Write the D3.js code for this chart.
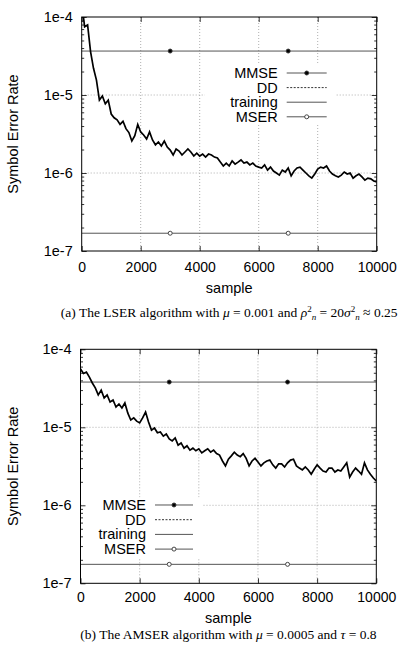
<!DOCTYPE html>
<html>
<head>
<meta charset="utf-8">
<script src="https://cdn.jsdelivr.net/npm/d3@7"></script>
<style>
body { margin: 0; background: #fff; }
svg { display: block; }
text { font-family: "Liberation Sans", Arial, sans-serif; fill: #000; }
text.caption { font-family: "Liberation Serif", "Times New Roman", serif; }
</style>
</head>
<body>
<svg id="drawing_region"></svg>
<script>
// sample grid (every 100 samples)
const samples = d3.range(0, 10001, 100);

// (a) LSER curve, symbol error rate read at each sample
const lserSER = [
  1.5e-4, 7.5e-5, 7.9e-5, 3.6e-5, 2.2e-5, 1.55e-5, 8.6e-6, 9.7e-6, 7.7e-6, 8.6e-6,
  5.7e-6, 5.1e-6, 4.8e-6, 4.2e-6, 4.6e-6, 3.7e-6, 3.3e-6, 2.57e-6, 3.0e-6, 4.2e-6,
  3.36e-6, 3.07e-6, 2.73e-6, 3.36e-6, 2.65e-6, 2.3e-6, 2.5e-6, 2.22e-6, 2.57e-6, 2.15e-6,
  1.97e-6, 1.70e-6, 2.03e-6, 1.91e-6, 1.70e-6, 1.86e-6, 2.03e-6, 1.86e-6, 1.65e-6, 1.80e-6,
  1.65e-6, 1.75e-6, 1.60e-6, 1.75e-6, 1.70e-6, 1.60e-6, 1.56e-6, 1.38e-6, 1.23e-6, 1.34e-6,
  1.23e-6, 1.43e-6, 1.30e-6, 1.38e-6, 1.47e-6, 1.34e-6, 1.38e-6, 1.27e-6, 1.34e-6, 1.23e-6,
  1.19e-6, 1.16e-6, 1.27e-6, 1.09e-6, 1.19e-6, 1.06e-6, 1.0e-6, 9.4e-7, 1.09e-6, 1.03e-6,
  1.16e-6, 9.2e-7, 1.06e-6, 1.16e-6, 1.19e-6, 1.09e-6, 1.0e-6, 9.2e-7, 8.6e-7, 9.7e-7,
  1.12e-6, 1.19e-6, 1.16e-6, 1.23e-6, 1.06e-6, 9.7e-7, 9.2e-7, 8.9e-7, 9.4e-7, 1.03e-6,
  9.7e-7, 1.0e-6, 8.6e-7, 9.2e-7, 9.7e-7, 8.9e-7, 8.1e-7, 8.6e-7, 8.4e-7, 7.9e-7,
  7.7e-7
];

// (b) AMSER curve
const amserSER = [
  5.6e-5, 4.9e-5, 5.1e-5, 4.4e-5, 3.7e-5, 3.2e-5, 2.6e-5, 3.0e-5, 2.38e-5, 2.6e-5,
  2.11e-5, 2.24e-5, 1.82e-5, 1.99e-5, 1.77e-5, 2.05e-5, 1.52e-5, 1.24e-5, 1.32e-5, 1.2e-5,
  1.14e-5, 1.32e-5, 1.57e-5, 1.17e-5, 9.2e-6, 9.8e-6, 8.5e-6, 8.7e-6, 7.7e-6, 8.2e-6,
  7.1e-6, 6.7e-6, 7.3e-6, 5.9e-6, 6.3e-6, 5.4e-6, 5.8e-6, 5.1e-6, 5.4e-6, 5.0e-6,
  5.3e-6, 4.7e-6, 5.0e-6, 5.3e-6, 4.8e-6, 5.1e-6, 4.6e-6, 4.4e-6, 3.7e-6, 3.2e-6,
  3.9e-6, 4.3e-6, 4.8e-6, 4.4e-6, 4.2e-6, 4.6e-6, 4.0e-6, 3.2e-6, 3.7e-6, 4.0e-6,
  3.6e-6, 3.2e-6, 3.5e-6, 3.7e-6, 3.8e-6, 3.3e-6, 3.0e-6, 3.4e-6, 3.4e-6, 3.1e-6,
  3.5e-6, 3.8e-6, 3.9e-6, 3.2e-6, 3.0e-6, 2.84e-6, 3.1e-6, 2.84e-6, 2.5e-6, 2.9e-6,
  3.3e-6, 3.0e-6, 2.75e-6, 2.67e-6, 3.0e-6, 3.0e-6, 2.67e-6, 2.84e-6, 2.75e-6, 3.1e-6,
  3.5e-6, 2.3e-6, 2.67e-6, 3.0e-6, 2.75e-6, 2.5e-6, 3.5e-6, 2.84e-6, 2.5e-6, 2.24e-6,
  2.05e-6
];

// reference levels
const mmseLevelA = 3.66e-5;
const mserLevelA = 1.69e-7;
const mmseLevelB = 3.8e-5;
const mserLevelB = 1.75e-7;
const markerSamples = [3000, 7000];

const xTicks = [0, 2000, 4000, 6000, 8000, 10000];
const yTicks = [1e-4, 1e-5, 1e-6, 1e-7];
const legendLabels = ['MMSE', 'DD', 'training', 'MSER'];

class LogPanel {

    constructor( config, data ) {
        this.config = config;
        this.data = data;
        this.init();
    }

    init() {
        let self = this;
        const c = self.config;

        self.chart = d3.select( c.parent ).append('g')
            .attr('transform', `translate(${c.left}, ${c.top})`);

        self.xscale = d3.scaleLinear()
            .domain( [0, 10000] )
            .range( [0, c.width] );

        self.yscale = d3.scaleLog()
            .domain( [1e-7, 1e-4] )
            .range( [c.height, 0] );

        self.clipId = 'clip-' + c.name;
        self.chart.append('clipPath').attr('id', self.clipId)
            .append('rect')
            .attr('width', c.width)
            .attr('height', c.height);
    }

    render() {
        let self = this;
        const c = self.config;
        const ch = self.chart;

        // grid
        ch.append('g').selectAll('line')
            .data( xTicks.slice(1, -1) )
            .join('line')
            .attr('x1', d => self.xscale(d)).attr('x2', d => self.xscale(d))
            .attr('y1', 0).attr('y2', c.height)
            .attr('stroke', '#9a9a9a').attr('stroke-width', 0.8)
            .attr('stroke-dasharray', '1,2');
        ch.append('g').selectAll('line')
            .data( yTicks.slice(1, -1) )
            .join('line')
            .attr('x1', 0).attr('x2', c.width)
            .attr('y1', d => self.yscale(d)).attr('y2', d => self.yscale(d))
            .attr('stroke', '#9a9a9a').attr('stroke-width', 0.8)
            .attr('stroke-dasharray', '1,2');

        const plot = ch.append('g').attr('clip-path', `url(#${self.clipId})`);

        // level lines
        const levels = [
            { v: c.mmse, fill: '#000' },
            { v: c.mser, fill: '#fff' }
        ];
        levels.forEach( lv => {
            plot.append('line')
                .attr('x1', 0).attr('x2', c.width)
                .attr('y1', self.yscale(lv.v)).attr('y2', self.yscale(lv.v))
                .attr('stroke', '#555').attr('stroke-width', 1);
            plot.selectAll(null)
                .data( markerSamples )
                .join('circle')
                .attr('cx', d => self.xscale(d))
                .attr('cy', self.yscale(lv.v))
                .attr('r', 2)
                .attr('fill', lv.fill)
                .attr('stroke', '#333').attr('stroke-width', 0.9);
        });

        // adaptive curve
        const line = d3.line()
            .x( (d, i) => self.xscale(samples[i]) )
            .y( d => self.yscale(d) );
        plot.append('path')
            .attr('d', line(self.data))
            .attr('fill', 'none')
            .attr('stroke', '#000')
            .attr('stroke-width', 1.7)
            .attr('stroke-linejoin', 'miter');

        // legend (opaque key)
        const lg = c.legend;
        const key = ch.append('g');
        key.append('rect')
            .attr('x', lg.box[0]).attr('y', lg.box[1])
            .attr('width', lg.box[2]).attr('height', lg.box[3])
            .attr('fill', '#fff');
        legendLabels.forEach( (lab, i) => {
            const y = lg.y0 + i * lg.dy;
            key.append('text')
                .attr('x', lg.textX).attr('y', y + 5)
                .attr('text-anchor', 'end')
                .attr('font-size', 14.5)
                .text(lab);
            key.append('line')
                .attr('x1', lg.x1).attr('x2', lg.x2)
                .attr('y1', y).attr('y2', y)
                .attr('stroke', i === 1 ? '#333' : '#555')
                .attr('stroke-width', 1)
                .attr('stroke-dasharray', i === 1 ? '2,1.5' : null);
            if (i === 0 || i === 3) {
                key.append('circle')
                    .attr('cx', (lg.x1 + lg.x2) / 2).attr('cy', y)
                    .attr('r', 2)
                    .attr('fill', i === 0 ? '#000' : '#fff')
                    .attr('stroke', '#333').attr('stroke-width', 0.9);
            }
        });

        // axes (ticks inward, mirrored)
        const minor = self.yscale.ticks().filter( d => !yTicks.some(t => Math.abs(t - d) / t < 1e-6) );
        const fmt = d => '1e' + Math.round(Math.log10(d));

        const yl = ch.append('g')
            .call( d3.axisLeft(self.yscale).tickValues(yTicks).tickFormat(fmt)
                .tickSizeInner(-5).tickSizeOuter(0).tickPadding(9) );
        ch.append('g')
            .call( d3.axisLeft(self.yscale).tickValues(minor).tickFormat('')
                .tickSizeInner(-2.5).tickSizeOuter(0) );
        ch.append('g').attr('transform', `translate(${c.width}, 0)`)
            .call( d3.axisRight(self.yscale).tickValues(yTicks).tickFormat('')
                .tickSizeInner(-5).tickSizeOuter(0) );
        ch.append('g').attr('transform', `translate(${c.width}, 0)`)
            .call( d3.axisRight(self.yscale).tickValues(minor).tickFormat('')
                .tickSizeInner(-2.5).tickSizeOuter(0) );
        const xl = ch.append('g').attr('transform', `translate(0, ${c.height})`)
            .call( d3.axisBottom(self.xscale).tickValues(xTicks).tickFormat(d3.format('d'))
                .tickSizeInner(-5).tickSizeOuter(0).tickPadding(c.xPad) );
        ch.append('g')
            .call( d3.axisTop(self.xscale).tickValues(xTicks).tickFormat('')
                .tickSizeInner(-5).tickSizeOuter(0) );

        ch.selectAll('.domain').remove();
        ch.selectAll('.tick line').attr('stroke', '#000').attr('stroke-width', 0.8);
        yl.selectAll('text').attr('font-size', 14.5).attr('font-family', null).attr('fill', '#000');
        xl.selectAll('text').attr('font-size', 14).attr('font-family', null).attr('fill', '#000');

        // border
        ch.append('rect')
            .attr('width', c.width).attr('height', c.height)
            .attr('fill', 'none')
            .attr('stroke', '#000').attr('stroke-width', 1);

        // axis titles
        ch.append('text')
            .attr('transform', `translate(${18 - c.left}, ${c.height / 2}) rotate(-90)`)
            .attr('text-anchor', 'middle')
            .attr('font-size', 14.5)
            .text('Symbol Error Rate');
        ch.append('text')
            .attr('x', c.width / 2).attr('y', c.height + c.xTitleY)
            .attr('text-anchor', 'middle')
            .attr('font-size', 14.5)
            .text('sample');

        // caption
        const cap = ch.append('text')
            .attr('class', 'caption')
            .attr('x', c.width / 2).attr('y', c.height + c.captionY)
            .attr('text-anchor', 'middle')
            .attr('font-size', 13.5);
        c.caption.forEach( p => {
            const ts = cap.append('tspan').text(p.t);
            if (p.it) ts.attr('font-style', 'italic');
            if (p.fs) ts.attr('font-size', p.fs);
            if (p.dx) ts.attr('dx', p.dx);
            if (p.dy) ts.attr('dy', p.dy);
        });
    }
}

const svg = d3.select('#drawing_region')
    .attr('width', 402)
    .attr('height', 648);
svg.append('rect').attr('width', 402).attr('height', 648).attr('fill', '#fff');

const panelA = new LogPanel({
    parent: '#drawing_region', name: 'a',
    left: 81.7, top: 17, width: 295, height: 234,
    mmse: mmseLevelA, mser: mserLevelA,
    xPad: 11, xTitleY: 42, captionY: 66,
    legend: { box: [123, 47, 131, 61], textX: 196, x1: 205, x2: 245, y0: 56, dy: 14.6 },
    caption: [
        { t: '(a) The LSER algorithm with ' }, { t: 'μ', it: true },
        { t: ' = 0.001 and ' }, { t: 'ρ', it: true },
        { t: '2', fs: 9, dy: -5 }, { t: 'n', it: true, fs: 9, dy: 8 },
        { t: ' = 20', dy: -3 }, { t: 'σ', it: true },
        { t: '2', fs: 9, dy: -5 }, { t: 'n', it: true, fs: 9, dy: 8 },
        { t: ' ≈ 0.25', dy: -3 }
    ]
}, lserSER);
panelA.render();

const panelB = new LogPanel({
    parent: '#drawing_region', name: 'b',
    left: 80.5, top: 349.3, width: 295.8, height: 234,
    mmse: mmseLevelB, mser: mserLevelB,
    xPad: 8.5, xTitleY: 39.5, captionY: 55.5,
    legend: { box: [3, 148, 119, 61], textX: 65.5, x1: 74.5, x2: 112.5, y0: 155.7, dy: 14.7 },
    caption: [
        { t: '(b) The AMSER algorithm with ' }, { t: 'μ', it: true },
        { t: ' = 0.0005 and ' }, { t: 'τ', it: true },
        { t: ' = 0.8' }
    ]
}, amserSER);
panelB.render();
</script>
</body>
</html>
